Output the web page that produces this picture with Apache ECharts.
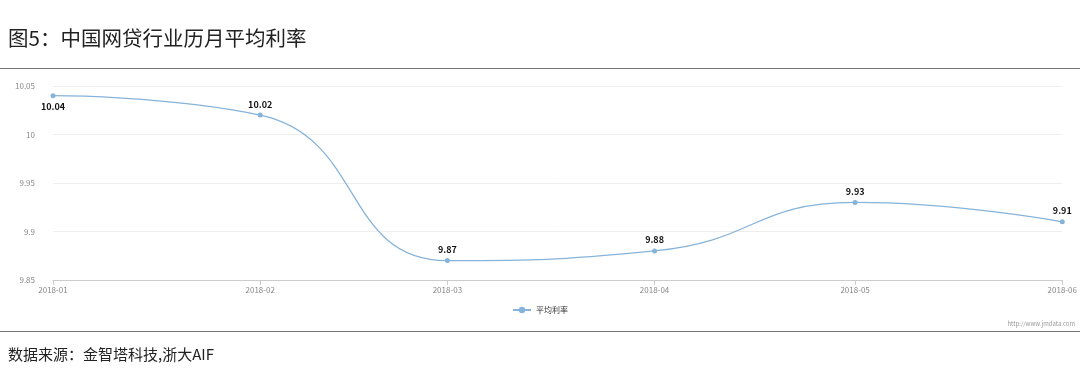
<!DOCTYPE html>
<html><head><meta charset="utf-8">
<script src="https://cdn.jsdelivr.net/npm/echarts@6/dist/echarts.min.js"></script>
<style>html,body{margin:0;padding:0;background:#fff}#c{width:1080px;height:389px}</style>
</head><body><div id="c"></div>
<script>
const months = ['2018-01-01','2018-02-01','2018-03-01','2018-04-01','2018-05-01','2018-06-01'];
const rates = [10.04, 10.02, 9.87, 9.88, 9.93, 9.91];
const seriesName = '平均利率';
const titleText = '图5：中国网贷行业历月平均利率';
const sourceText = '数据来源：金智塔科技,浙大AIF';
const yTicks = {min: 9.85, max: 10.05, interval: 0.05};

const ts = months.map(m => new Date(m + 'T00:00:00Z').getTime());
const data = ts.map((t, i) => ({
  value: [t, rates[i]],
  label: {position: i === 0 ? 'bottom' : 'top'}
}));
const font = '"Noto Sans CJK SC","Noto Sans",sans-serif';
const chart = echarts.init(document.getElementById('c'));
chart.setOption({
  animation: false,
  textStyle: {fontFamily: font},
  grid: {left: 53, right: 15, top: 86, bottom: 109, containLabel: false},
  legend: {
    data: [{name: seriesName}], bottom: 70, left: 'center',
    itemWidth: 18, itemHeight: 8, itemGap: 10,
    textStyle: {fontSize: 8, color: '#333'}
  },
  xAxis: {
    type: 'value', min: ts[0], max: ts[ts.length - 1],
    axisLine: {lineStyle: {color: '#ccc'}},
    axisTick: {show: true, customValues: ts, length: 5, lineStyle: {color: '#ccc'}},
    axisLabel: {
      customValues: ts, fontSize: 8, color: '#888', margin: 6,
      formatter: v => { const d = new Date(v); return d.getUTCFullYear() + '-' + String(d.getUTCMonth() + 1).padStart(2, '0'); }
    },
    splitLine: {show: false}
  },
  yAxis: {
    type: 'value', min: yTicks.min, max: yTicks.max, interval: yTicks.interval,
    axisLine: {show: false}, axisTick: {show: false},
    axisLabel: {fontSize: 8, color: '#888', margin: 18},
    splitLine: {lineStyle: {color: '#eee'}}
  },
  series: [{
    name: seriesName, type: 'line', data: data, smooth: 0.5,
    symbol: 'circle', symbolSize: 5,
    itemStyle: {color: '#86b3da'},
    lineStyle: {color: '#86b3da', width: 1.3},
    label: {show: true, fontSize: 9, fontWeight: 'bold', color: '#111', distance: 4,
      formatter: p => p.value[1].toFixed(2)}
  }],
  graphic: [
    {type: 'text', left: 8, top: 28, style: {text: titleText, fontSize: 20.5, fill: '#222', fontFamily: font}},
    {type: 'line', shape: {x1: 0, y1: 68.5, x2: 1080, y2: 68.5}, style: {stroke: '#777', lineWidth: 1}},
    {type: 'line', shape: {x1: 0, y1: 331.5, x2: 1080, y2: 331.5}, style: {stroke: '#777', lineWidth: 1}},
    {type: 'text', right: 5, top: 321, style: {text: 'http://www.jmdata.com', fontSize: 6, fill: '#999', fontFamily: font}},
    {type: 'text', left: 8, top: 347, style: {text: sourceText, fontSize: 15, fill: '#222', fontFamily: font}}
  ]
});
</script></body></html>
